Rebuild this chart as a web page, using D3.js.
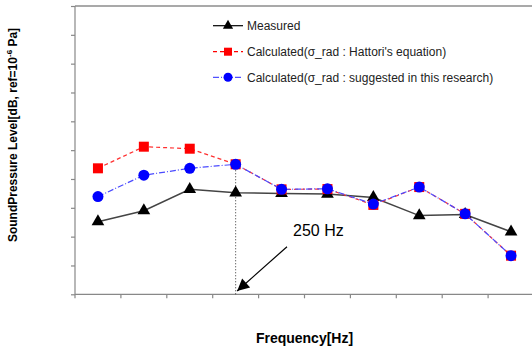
<!DOCTYPE html>
<html><head><meta charset="utf-8">
<script src="https://cdn.jsdelivr.net/npm/d3@7/dist/d3.min.js"></script>
<style>body{margin:0;background:#fff}svg{display:block}text{font-family:"Liberation Sans",Arial,sans-serif}</style>
</head><body><svg id="c" width="532" height="352"></svg>
<script>
const categories = ["125","160","200","250","315","400","500","630","800","1000"];
const measured   = [2.52, 2.90, 3.64, 3.52, 3.50, 3.48, 3.36, 2.73, 2.77, 2.17];
const hattori    = [4.37, 5.12, 5.05, 4.51, 3.64, 3.65, 3.10, 3.72, 2.79, 1.34];
const suggested  = [3.39, 4.13, 4.37, 4.51, 3.64, 3.66, 3.13, 3.72, 2.79, 1.34];
const yTicks = d3.range(0, 11, 1);
const legendLabels = ["Measured", "Calculated(σ_rad : Hattori's equation)", "Calculated(σ_rad : suggested in this research)"];
const markLabel = "250 Hz";
const markCategory = "250";

const svg = d3.select("#c");
const L = 75, R = 534, T = 6, B = 294.3;
const x = d3.scaleBand().domain(categories).range([L, R]);
const y = d3.scaleLinear().domain([0, 10]).range([B, T]);

// top border
svg.append("line").attr("x1", L).attr("x2", 532).attr("y1", T).attr("y2", T)
  .attr("stroke", "#555").attr("stroke-width", 1.2);

// y axis
const ya = svg.append("g").attr("transform", `translate(${L},0)`)
  .call(d3.axisLeft(y).tickValues(yTicks).tickSize(4).tickFormat(""));
ya.selectAll("path,line").attr("stroke", "#888").attr("stroke-width", 1.2);
ya.select("path").attr("d", `M0,${T}V${B}`);

// x axis
const xa = svg.append("g").attr("transform", `translate(0,${B})`)
  .call(d3.axisBottom(x).tickSize(4).tickFormat(""));
xa.select("path").attr("d", `M${L},0H532`).attr("stroke", "#888").attr("stroke-width", 1.2);
xa.selectAll(".tick line").attr("stroke", "#888").attr("stroke-width", 1.2)
  .attr("transform", `translate(${-x.bandwidth()/2},0)`);

const cx = d => x(d) + x.bandwidth() / 2;

// dotted vertical marker line
const mi = categories.indexOf(markCategory);
svg.append("line").attr("x1", cx(markCategory)).attr("x2", cx(markCategory))
  .attr("y1", y(suggested[mi])).attr("y2", B)
  .attr("stroke", "#333").attr("stroke-width", 1).attr("stroke-dasharray", "1,2");

// arrow
svg.append("defs").append("marker").attr("id", "ah").attr("viewBox", "0 0 10 10")
  .attr("refX", 10).attr("refY", 5).attr("markerWidth", 16).attr("markerHeight", 12)
  .attr("markerUnits", "userSpaceOnUse").attr("orient", "auto")
  .append("path").attr("d", "M0,0L10,5L0,10Z").attr("fill", "#000");
svg.append("line").attr("x1", 287).attr("y1", 246.7).attr("x2", cx(markCategory) + 1.5).attr("y2", 291)
  .attr("stroke", "#000").attr("stroke-width", 1.2).attr("marker-end", "url(#ah)");
svg.append("text").attr("x", 293).attr("y", 235.5).attr("font-size", 16).attr("fill", "#000").text(markLabel);

const line = d3.line().x((d, i) => cx(categories[i])).y(d => y(d));

// measured
svg.append("path").datum(measured).attr("d", line).attr("fill", "none")
  .attr("stroke", "#444").attr("stroke-width", 1.5);
const tri = d3.symbol().type(d3.symbolTriangle).size(70);
svg.selectAll(".tri").data(measured).join("path")
  .attr("transform", (d, i) => `translate(${cx(categories[i])},${y(d)})`)
  .attr("d", tri).attr("fill", "#000");

// hattori
svg.append("path").datum(hattori).attr("d", line).attr("fill", "none")
  .attr("stroke", "#ff3030").attr("stroke-width", 1.2).attr("stroke-dasharray", "4,3");
svg.selectAll(".sq").data(hattori).join("rect")
  .attr("x", (d, i) => cx(categories[i]) - 5).attr("y", d => y(d) - 5)
  .attr("width", 10).attr("height", 10).attr("fill", "#ff0000");

// suggested
svg.append("path").datum(suggested).attr("d", line).attr("fill", "none")
  .attr("stroke", "#4a4aff").attr("stroke-width", 1.2).attr("stroke-dasharray", "6,2,1,2");
svg.selectAll(".ci").data(suggested).join("circle")
  .attr("cx", (d, i) => cx(categories[i])).attr("cy", d => y(d)).attr("r", 5.5).attr("fill", "#0000ff");

// legend
const lg = svg.append("g");
const lys = [25.7, 51.7, 77.3];
const lstyles = [
  {stroke: "#000", dash: null},
  {stroke: "#ff0000", dash: "4,3"},
  {stroke: "#5050ff", dash: "6,2,1,2"}
];
legendLabels.forEach((t, i) => {
  lg.append("line").attr("x1", 213).attr("x2", 243).attr("y1", lys[i]).attr("y2", lys[i])
    .attr("stroke", lstyles[i].stroke).attr("stroke-width", 1.2)
    .attr("stroke-dasharray", lstyles[i].dash);
  if (i === 0) lg.append("path").attr("transform", `translate(228,${lys[i]})`).attr("d", d3.symbol().type(d3.symbolTriangle).size(45)).attr("fill", "#000");
  if (i === 1) lg.append("rect").attr("x", 224).attr("y", lys[i] - 4).attr("width", 8).attr("height", 8).attr("fill", "#ff0000");
  if (i === 2) lg.append("circle").attr("cx", 228).attr("cy", lys[i]).attr("r", 4.5).attr("fill", "#0000ff");
  lg.append("text").attr("x", 247).attr("y", lys[i] + 4.3).attr("font-size", 12).attr("fill", "#222").text(t);
});

// axis titles
svg.append("text").attr("x", 304.5).attr("y", 343).attr("text-anchor", "middle")
  .attr("font-size", 14).attr("font-weight", "bold").attr("fill", "#000").text("Frequency[Hz]");
const yt = svg.append("text").attr("transform", "translate(16.5,135) rotate(-90)")
  .attr("text-anchor", "middle").attr("font-size", 12).attr("font-weight", "bold").attr("fill", "#000");
yt.append("tspan").text("SoundPressure Level[dB, ref=10");
yt.append("tspan").attr("font-size", 8).attr("dy", -5).text("-6");
yt.append("tspan").attr("dy", 5).text(" Pa]");
</script></body></html>
